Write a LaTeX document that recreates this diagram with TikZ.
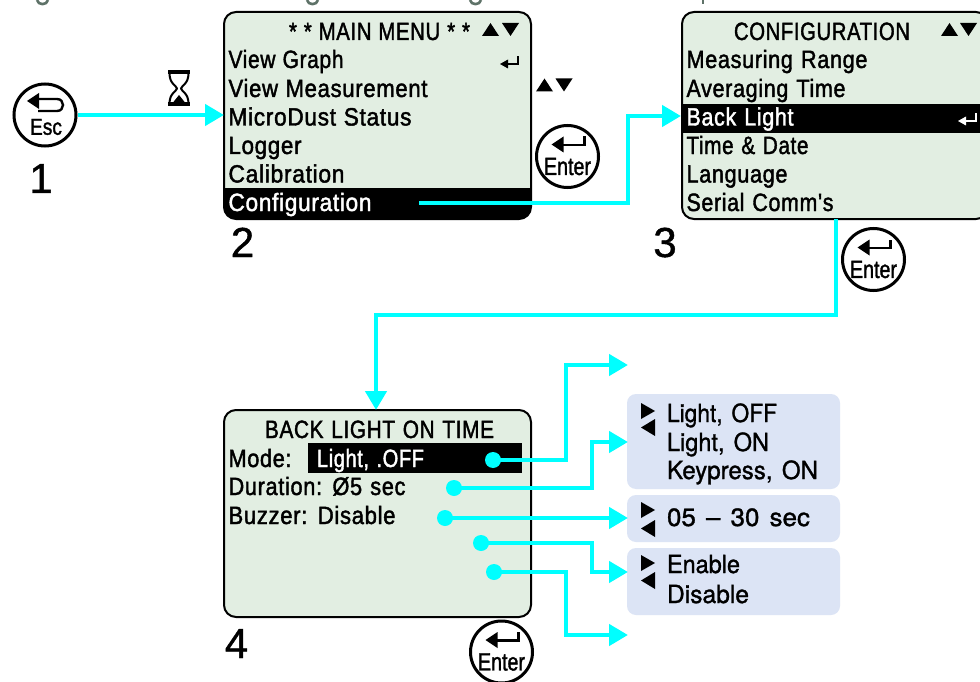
\documentclass[tikz,border=0pt]{standalone}
\usepackage{fontspec}
\usepackage{graphicx}
\usetikzlibrary{arrows.meta,calc}
\setmainfont{Liberation Sans}
\newfontfamily\lcdf[WordSpace=0.1,LetterSpace=3,FakeBold=1.8]{Liberation Sans}
\newfontfamily\lcdwide[WordSpace=1.1,LetterSpace=3,FakeBold=1.8]{Liberation Sans}
\newfontfamily\panelf[WordSpace=1.4,FakeBold=1.2,Ligatures=TeX]{TeX Gyre Heros}
\newfontfamily\keyf[FakeBold=1.5]{Liberation Sans}
\newfontfamily\numf[FakeBold=1]{Liberation Sans}
\definecolor{lcdbg}{HTML}{E2EEE2}
\definecolor{panelbg}{HTML}{DCE4F5}
\definecolor{conncol}{HTML}{00FFFF}
\definecolor{clipgrey}{HTML}{5E7268}
\tikzset{
  lcdbox/.style={draw=black,line width=2pt,fill=lcdbg,rounded corners=12pt,inner sep=0pt},
  panelbox/.style={fill=panelbg,rounded corners=9pt,inner sep=0pt},
  conn/.style={draw=conncol,line width=4.5pt,line join=miter,-{Triangle[length=19pt,width=21pt]}},
  conndot/.style={circle,fill=conncol,minimum size=16pt,inner sep=0pt},
  keyring/.style={circle,draw=black,line width=3pt,fill=white,minimum size=62pt,inner sep=0pt},
  textat/.style={anchor=base west,inner sep=0pt,outer sep=0pt},
  steplabel/.style={anchor=base,inner sep=0pt,font=\fontsize{42}{42}\numf},
  blackband/.style={fill=black,draw=none},
}
% name, x, baseline y, width, text
\newcommand{\lcd}[6][black]{\node[textat,text=#1] (#2) at (#3,#4) {\resizebox{#5pt}{\height}{\fontsize{25}{25}\lcdf #6}};}
\newcommand{\lcdw}[6][black]{\node[textat,text=#1] (#2) at (#3,#4) {\resizebox{#5pt}{\height}{\fontsize{25}{25}\lcdwide #6}};}
\newcommand{\pan}[5]{\node[textat] (#1) at (#2,#3) {\resizebox{#4pt}{\height}{\fontsize{25}{25}\panelf #5}};}
\newcommand{\tup}[3][black]{\fill[#1] (#2,#3+13) -- (#2+17,#3+13) -- (#2+8.5,#3) -- cycle;}
\newcommand{\tdn}[3][black]{\fill[#1] (#2,#3) -- (#2+17,#3) -- (#2+8.5,#3+13) -- cycle;}
\newcommand{\tri}[2]{\fill (#1,#2) -- (#1+14,#2+8) -- (#1,#2+16) -- cycle;}
\newcommand{\tle}[2]{\fill (#1+14,#2) -- (#1,#2+8.5) -- (#1+14,#2+17) -- cycle;}
\newcommand{\retarrow}[3]{% colour, x left, y top
  \fill[#1] (#2,#3+8) -- (#2+8,#3+3.5) -- (#2+8,#3+12.5) -- cycle;
  \draw[#1,line width=1.8pt] (#2+7,#3+8) -- (#2+18,#3+8) -- (#2+18,#3);}
\newcommand{\enterkey}[3]{% name, cx, cy
  \node[keyring] (#1) at (#2,#3) {};
  \fill (#2-16,#3-12) -- (#2-4,#3-20) -- (#2-4,#3-4) -- cycle;
  \draw[line width=2.4pt] (#2-5,#3-11.5) -- (#2+17,#3-11.5) -- (#2+17,#3-20);
  \node[inner sep=0pt] (#1t) at (#2,#3+10) {\resizebox{47pt}{\height}{\fontsize{25}{25}\keyf Enter}};}
\begin{document}
\begin{tikzpicture}[x=1pt,y=-1pt]
\useasboundingbox (0,0) rectangle (980,682);
\clip (0,0) rectangle (980,682);
\fill[white] (0,0) rectangle (980,682);

% clipped remains of the title line
\draw[clipgrey,line width=2.6pt] (37,0) .. controls (38,5.5) and (47,5.5) .. (48,0);
\draw[clipgrey,line width=2.6pt] (307,0) .. controls (308,5.5) and (317,5.5) .. (318,0);
\draw[clipgrey,line width=2.6pt] (470,0) .. controls (471,5.5) and (480,5.5) .. (481,0);
\draw[clipgrey,line width=2.6pt] (703,0) -- (703,4.5);

% screens
\node[lcdbox,minimum width=307pt,minimum height=207pt] (scr2) at (377.5,115.5) {};
\node[lcdbox,minimum width=306pt,minimum height=207pt] (scr3) at (835,115.5) {};
\node[lcdbox,minimum width=307pt,minimum height=207pt] (scr4) at (377.5,513.5) {};

% highlight bands
\begin{scope}
  \clip[rounded corners=12pt] (224,12) rectangle (531,219);
  \fill[blackband] (224,188) rectangle (531,220);
\end{scope}
\fill[blackband] (683,104) rectangle (981,133);
\fill[blackband] (308,443) rectangle (522,473);

% screen 2 text
\lcd{m0}{289}{40}{181}{* * MAIN MENU * *}
\lcd{m1}{228.5}{68}{115}{View Graph}
\lcd{m2}{228.5}{97}{199}{View Measurement}
\lcd{m3}{228.5}{125.5}{183}{MicroDust Status}
\lcd{m4}{228.5}{154}{73}{Logger}
\lcd{m5}{228.5}{182.5}{116}{Calibration}
\lcd[white]{m6}{228.5}{211}{143}{Configuration}
\tup{482}{23}\tdn{502}{23}
\retarrow{black}{500}{56}
% screen 3 text
\lcdw{c0}{734}{40}{176}{CONFIGURATION}
\lcd{c1}{686.5}{68}{181}{Measuring Range}
\lcd{c2}{686.5}{97}{159}{Averaging Time}
\lcd[white]{c3}{686.5}{125.5}{107}{Back Light}
\lcd{c4}{686.5}{154}{122}{Time \& Date}
\lcd{c5}{686.5}{182.5}{101}{Language}
\lcd{c6}{686.5}{211}{147}{Serial Comm's}
\tup{941}{23}\tdn{960}{23}
\retarrow{white}{958}{113}
% screen 4 text
\lcdw{b0}{265}{438}{229}{BACK LIGHT ON TIME}
\lcdw{b1}{228.5}{467}{63}{Mode:}
\lcdw[white]{b2}{317}{467}{107}{Light, .OFF}
\lcdw{b3}{228.5}{495}{177}{Duration: Ø5 sec}
\lcdw{b4}{228.5}{524}{167}{Buzzer: Disable}

% loose scroll triangles
\tup{536}{78.5}\tdn{555.5}{78.5}

% hourglass
\draw[line width=2pt,fill=white,line join=round]
  (169.5,73) -- (188.5,73) .. controls (188.5,84) and (182,85) .. (181,88.5)
  .. controls (182,92) and (188.5,93) .. (188.5,104) -- (169.5,104)
  .. controls (169.5,93) and (176,92) .. (177,88.5) .. controls (176,85) and (169.5,84) .. (169.5,73) -- cycle;
\fill (168,70.5) rectangle (190,74.5);
\fill (168,102.5) rectangle (190,106.5);
\fill (179,95) -- (185,102.5) -- (173,102.5) -- cycle;

% keys
\node[keyring] (esc) at (45,115) {};
\fill (27,101) -- (39,93) -- (39,109) -- cycle;
\draw[line width=2.4pt] (38,99) -- (57,99) .. controls (65,99) and (65,111) .. (57,111) -- (38,111);
\node[inner sep=0pt] (esct) at (46,127) {\resizebox{32pt}{\height}{\fontsize{23}{23}\keyf Esc}};
\enterkey{ent2}{567.5}{156.5}
\enterkey{ent3}{873.5}{259.5}
\enterkey{ent4}{501.5}{652}

% step numbers
\node[steplabel] (n1) at (41,193) {1};
\node[steplabel] (n2) at (242.5,257) {2};
\node[steplabel] (n3) at (665,257) {3};
\node[steplabel] (n4) at (236.5,658) {4};

% option panels
\node[panelbox,minimum width=213pt,minimum height=95pt] (p1) at (733.5,441.5) {};
\node[panelbox,minimum width=213pt,minimum height=47pt] (p2) at (733.5,518.5) {};
\node[panelbox,minimum width=213pt,minimum height=67pt] (p3) at (733.5,581.5) {};
\tri{641}{403}\tle{641}{419}
\tri{641}{502}\tle{641}{520}
\tri{641}{555}\tle{641}{572}
\pan{o1}{667}{422}{110}{Light, OFF}
\pan{o2}{667}{451}{102}{Light, ON}
\pan{o3}{667}{479}{151}{Keypress, ON}
\pan{o4}{667}{526}{143}{05 – 30 sec}
\pan{o5}{667}{573}{73}{Enable}
\pan{o6}{667}{603}{82}{Disable}

% connector end points
\coordinate (t2) at (224,115);
\coordinate (s2) at (419,203);
\coordinate (t3) at (681,116);
\coordinate (s3) at (836,219);
\coordinate (t4) at (376,410);
\node[conndot] (d1) at (493,460) {};
\node[conndot] (d2) at (454,488) {};
\node[conndot] (d3) at (445,518) {};
\node[conndot] (d4) at (481,543) {};
\node[conndot] (d5) at (494,572) {};
\coordinate (e1) at (628,365);
\coordinate (e2) at (628,442);
\coordinate (e3) at (628,518);
\coordinate (e4) at (628,572);
\coordinate (e5) at (628,635);

% connectors
\draw[conn] (esc.east) -- (t2);
\draw[conn] (s2) -- (628,203) -- (628,116) -- (t3);
\draw[conn] (s3) -- (836,315) -- (376,315) -- (t4);
\draw[conn] (d1.center) -- (566,460) -- (566,365) -- (e1);
\draw[conn] (d2.center) -- (592,488) -- (592,442) -- (e2);
\draw[conn] (d3.center) -- (e3);
\draw[conn] (d4.center) -- (592,543) -- (592,572) -- (e4);
\draw[conn] (d5.center) -- (566,572) -- (566,635) -- (e5);
\end{tikzpicture}
\end{document}
